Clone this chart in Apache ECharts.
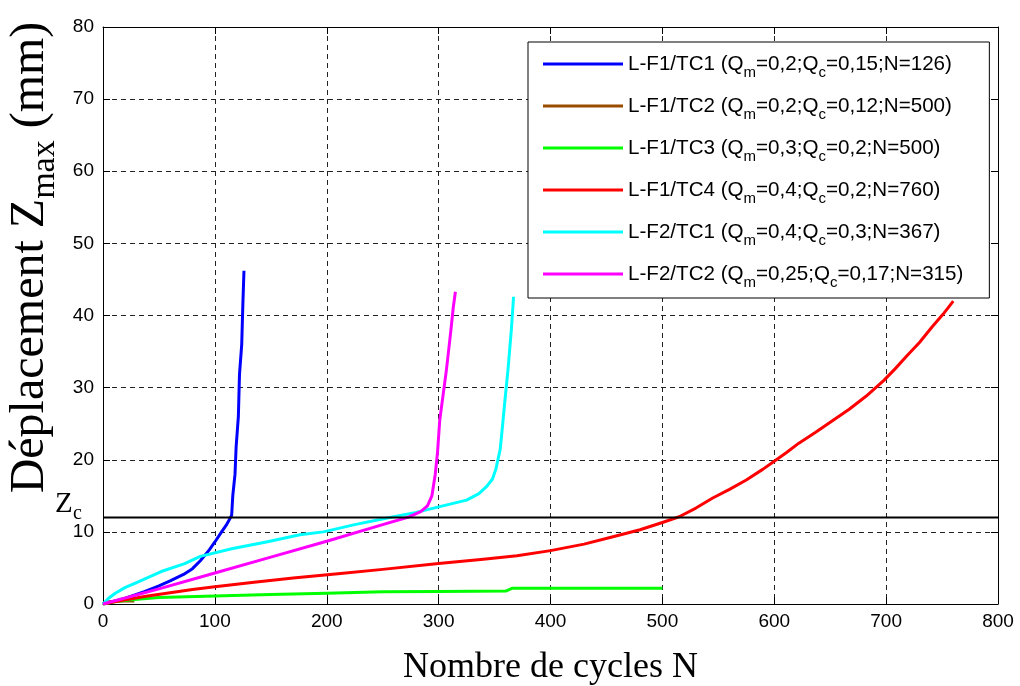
<!DOCTYPE html>
<html><head><meta charset="utf-8">
<script src="https://cdn.jsdelivr.net/npm/echarts@6/dist/echarts.min.js"></script>
<style>html,body{margin:0;padding:0;background:#fff}#c{width:1020px;height:686px}</style>
</head><body><div id="c"></div>
<script>
// ---- data ----
const seriesNames = ['L-F1/TC1','L-F1/TC2','L-F1/TC3','L-F1/TC4','L-F2/TC1','L-F2/TC2'];
const qm = ['0,2','0,2','0,3','0,4','0,4','0,25'];
const qc = ['0,15','0,12','0,2','0,2','0,3','0,17'];
const nCycles = ['126','500','500','760','367','315'];
const colors = ['#0000ff','#994c00','#00ff00','#ff0000','#00ffff','#ff00ff'];

const f1tc1 = [[0,0],[10,0.4],[20,0.8],[37,1.7],[50,2.5],[60,3.2],[72,4.1],[80,4.9],[87,6.0],[95,7.5],[100,8.6],[106,10],[110,10.9],[113,11.7],[115,12.3],[116,15],[118,18],[119,21.8],[121,26],[122,31.8],[124,36],[125,41.5],[126,46.2]];
const f1tc2 = [[0,0],[5,0.3],[15,0.4],[28,0.4]];
const f1tc3 = [[0,0],[10,0.3],[25,0.6],[50,0.9],[100,1.1],[150,1.3],[200,1.5],[250,1.7],[300,1.75],[360,1.8],[366,2.2],[400,2.2],[450,2.2],[500,2.2]];
const f1tc4 = [[0,0],[20,0.6],[40,1.1],[80,2.0],[100,2.4],[135,3.0],[170,3.6],[210,4.2],[250,4.8],[300,5.6],[340,6.2],[370,6.7],[400,7.4],[430,8.3],[455,9.3],[480,10.3],[500,11.3],[515,12.1],[530,13.3],[545,14.7],[560,15.9],[575,17.2],[590,18.7],[600,19.8],[611,21],[622,22.3],[637,23.8],[652,25.4],[667,27],[682,28.8],[698,31],[708,32.6],[718,34.3],[730,36.3],[741,38.4],[751,40.2],[760,42]];
const f2tc1 = [[0,0],[5,0.8],[11,1.5],[20,2.3],[29,2.9],[42,3.8],[52,4.5],[73,5.6],[87,6.6],[116,7.7],[146,8.6],[176,9.6],[197,10],[225,11],[253,11.9],[280,12.7],[301,13.5],[325,14.4],[336,15.3],[343,16.3],[348,17.3],[351,18.6],[353,20],[355,21.4],[357,24.5],[359,27.8],[362,32.5],[365,38],[367,42.6]];
const f2tc2 = [[0,0],[50,2.1],[100,4.3],[150,6.5],[200,8.7],[250,11.0],[274,12.1],[284,12.8],[290,13.6],[294,15],[297,18],[299,21],[301,25.5],[304,29],[307,32.5],[311,38],[313,41],[315,43.3]];
const allData = [f1tc1,f1tc2,f1tc3,f1tc4,f2tc1,f2tc2];
const zc = 12;
const zcLine = [[0,zc],[800,zc]];

const xMin=0, xMax=800, xStep=100, yMin=0, yMax=80, yStep=10;

// ---- chart ----
const chart = echarts.init(document.getElementById('c'), null, {renderer:'canvas'});
const sansFont = 'Liberation Sans';
const serifFont = 'Liberation Serif';

function axisBase(extra){
  return Object.assign({
    axisLine:{show:true,onZero:false,lineStyle:{color:'#000',width:1}},
    axisTick:{show:true,inside:true,length:7,lineStyle:{color:'#000'}},
    splitLine:{show:false}
  }, extra);
}

const series = allData.map((d,i)=>({
  name: seriesNames[i], type:'line', data:d, showSymbol:false, symbol:'none', smooth:false,
  lineStyle:{color:colors[i],width:3,join:'round'}, itemStyle:{color:colors[i]}, z:2+i*0.01, animation:false
}));
series.push({name:'Zc', type:'line', data:zcLine, showSymbol:false, symbol:'none',
  lineStyle:{color:'#000',width:2}, itemStyle:{color:'#000'}, z:3, animation:false, silent:true});

const option = {
  backgroundColor:'#fff',
  animation:false,
  grid:{left:103,right:22,top:27,bottom:82,containLabel:false,outerBoundsMode:'none'},
  xAxis:[
    axisBase({type:'value',min:xMin,max:xMax,interval:xStep,position:'bottom',
      axisLabel:{color:'#000',fontFamily:sansFont,fontSize:19,margin:8},
      splitLine:{show:true,lineStyle:{color:'#222',type:[5,4],width:1}},
      name:'Nombre de cycles N',nameLocation:'middle',nameGap:46,
      nameTextStyle:{color:'#000',fontFamily:serifFont,fontSize:36}}),
    axisBase({type:'value',min:xMin,max:xMax,interval:xStep,position:'top',axisLabel:{show:false}})
  ],
  yAxis:[
    axisBase({type:'value',min:yMin,max:yMax,interval:yStep,position:'left',
      axisLabel:{color:'#000',fontFamily:sansFont,fontSize:19,margin:9},
      splitLine:{show:true,lineStyle:{color:'#222',type:[5,4],width:1}},
      name:'Déplacement Z{sub|max} (mm)',nameLocation:'middle',nameGap:39,
      nameTextStyle:{color:'#000',fontFamily:serifFont,fontSize:48,padding:[0,0,0,116],lineHeight:64,
        rich:{sub:{fontFamily:serifFont,fontSize:34,color:'#000',verticalAlign:'bottom',lineHeight:34}}}}),
    axisBase({type:'value',min:yMin,max:yMax,interval:yStep,position:'right',axisLabel:{show:false}})
  ],
  legend:{
    data:seriesNames, orient:'vertical', left:528, top:42,
    backgroundColor:'#fff', borderColor:'#000', borderWidth:1,
    padding:[6,26,8,15], itemGap:10, itemWidth:80, itemHeight:3, icon:'rect',
    formatter:function(name){const i=seriesNames.indexOf(name);
      return name+' (Q{sub|m}=' + qm[i] + ';Q{sub|c}=' + qc[i] + ';N=' + nCycles[i] + ')';},
    textStyle:{color:'#000',fontFamily:sansFont,fontSize:20.6,lineHeight:32,
      rich:{sub:{fontFamily:sansFont,fontSize:15,color:'#000',verticalAlign:'bottom',lineHeight:14}}}
  },
  series: series
};
chart.setOption(option);

// Zc label placed from the axis scale
const p = chart.convertToPixel({gridIndex:0},[xMin,zc]);
chart.setOption({graphic:[
  {type:'text',left:p[0]-48,top:p[1]-28,style:{text:'Z',font:'29px "Liberation Serif"',fill:'#000'}},
  {type:'text',left:p[0]-30,top:p[1]-14,style:{text:'c',font:'20px "Liberation Serif"',fill:'#000'}}
]});
</script></body></html>
